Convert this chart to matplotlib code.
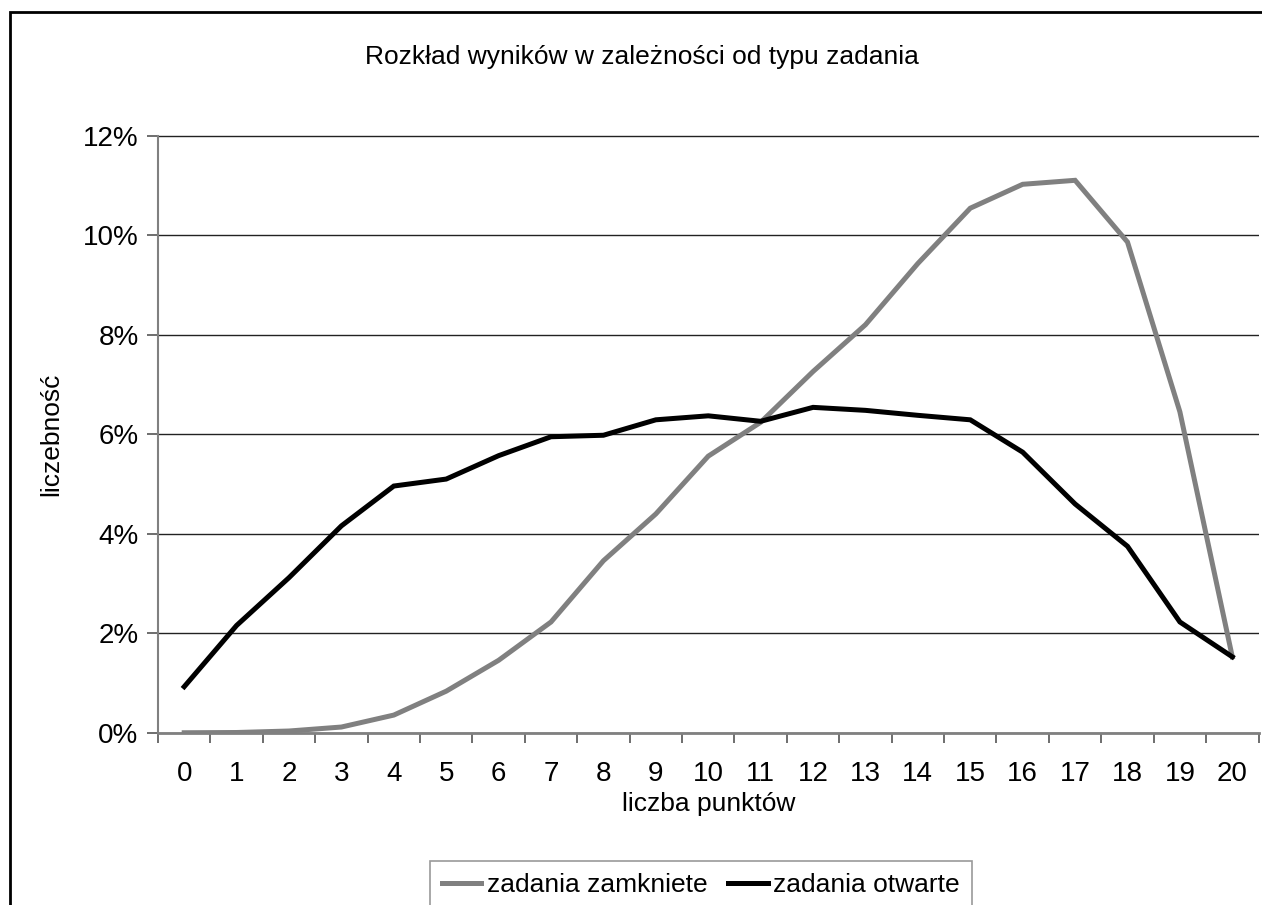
import numpy as np
import matplotlib
matplotlib.use('Agg')
import matplotlib.pyplot as plt
from matplotlib.patches import Rectangle

plt.rcParams['font.family'] = ['Liberation Sans', 'DejaVu Sans']

points = list(range(21))
closed = [0.005, 0.01, 0.04, 0.12, 0.36, 0.84, 1.46, 2.23, 3.46, 4.40, 5.56,
          6.24, 7.26, 8.20, 9.43, 10.54, 11.02, 11.10, 9.86, 6.45, 1.53]
opened = [0.93, 2.16, 3.12, 4.16, 4.96, 5.10, 5.57, 5.95, 5.98, 6.29, 6.37,
          6.26, 6.54, 6.48, 6.38, 6.29, 5.64, 4.60, 3.75, 2.23, 1.53]
yticks = [0, 2, 4, 6, 8, 10, 12]

fig = plt.figure(figsize=(12.62, 9.05), dpi=100)
fig.patches.append(Rectangle((10/1262, -0.1), 1.2, (905-12)/905 + 0.1,
                             transform=fig.transFigure, fill=False,
                             edgecolor='black', linewidth=2))
ax = fig.add_axes([158/1262, (905-733)/905, (1258.5-158)/1262, (733-135.5)/905])

ax.plot(points, closed, color='#808080', linewidth=3.6, label='zadania zamkniete',
        solid_joinstyle='miter')
ax.plot(points, opened, color='black', linewidth=3.6, label='zadania otwarte',
        solid_joinstyle='miter')

ax.set_xlim(-0.5, 20.5)
ax.set_ylim(0, 12)
ax.set_yticks(yticks)
ax.set_yticklabels(['%d%%' % v for v in yticks])
ax.set_xticks(points)
ax.set_xticks(np.arange(-0.5, 21, 1), minor=True)
ax.tick_params(axis='x', which='major', length=0, pad=20, labelsize=20)
ax.tick_params(axis='x', which='minor', length=7, color='#555555', width=1.2)
ax.tick_params(axis='y', length=8, color='#555555', width=1.2, pad=6, labelsize=20)
ax.yaxis.grid(True, color='#222222', linewidth=1)
ax.set_axisbelow(True)

for s in ['top', 'right']:
    ax.spines[s].set_visible(False)
ax.spines['left'].set_color('#808080')
ax.spines['left'].set_linewidth(1.5)
ax.spines['bottom'].set_color('#808080')
ax.spines['bottom'].set_linewidth(2)

ax.set_xlabel('liczba punktów', fontsize=19, labelpad=4)
ax.set_ylabel('liczebność', fontsize=19, labelpad=14)
fig.text(0.5085, (905-57)/905, 'Rozkład wyników w zależności od typu zadania',
         ha='center', va='center', fontsize=19)

leg = fig.legend(loc='upper left', bbox_to_anchor=(430/1262, (905-861)/905),
                 ncol=2, fontsize=19, frameon=True, fancybox=False,
                 handlelength=1.5, handletextpad=0.2, columnspacing=0.8,
                 borderpad=0.45, borderaxespad=0)
leg.get_frame().set_edgecolor('#808080')
leg.get_frame().set_linewidth(1.2)

fig.savefig('out.png', dpi=100)
